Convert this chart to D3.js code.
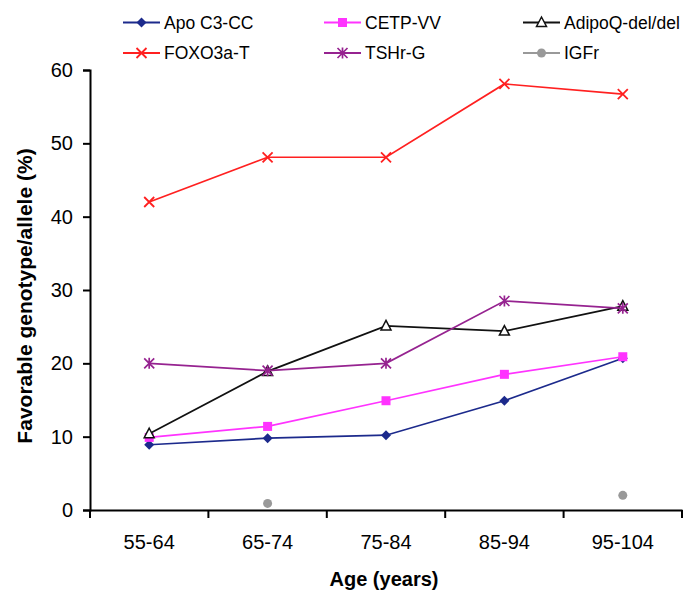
<!DOCTYPE html>
<html>
<head>
<meta charset="utf-8">
<script src="https://cdn.jsdelivr.net/npm/d3@7"></script>
<style>
  body { margin: 0; background: #fff; }
  text { font-family: "Liberation Sans", Arial, sans-serif; }
</style>
</head>
<body>
<svg width="683" height="590"></svg>
<script>
var width = 683;
var height = 590;

// age groups and tick labels
const ages = ["55-64", "65-74", "75-84", "85-94", "95-104"];
const yTicks = [0, 10, 20, 30, 40, 50, 60];

// values (%)
const apoC3 = [8.9, 9.8, 10.2, 14.9, 20.7];
const cetp = [9.9, 11.4, 14.9, 18.5, 20.9];
const adipoQ = [10.4, 18.9, 25.1, 24.4, 27.8];
const foxo3a = [42.0, 48.1, 48.1, 58.1, 56.7];
const tshr = [20.0, 19.0, 20.0, 28.5, 27.5];
const igfr = [null, 0.9, null, null, 2.0];

const seriesNames = ["Apo C3-CC", "CETP-VV", "AdipoQ-del/del", "FOXO3a-T", "TSHr-G", "IGFr"];

var series = [
    {name: seriesNames[0], values: apoC3, color: "#1c2a8c", marker: "diamond"},
    {name: seriesNames[1], values: cetp, color: "#ff33ff", marker: "square"},
    {name: seriesNames[2], values: adipoQ, color: "#111111", marker: "triangle"},
    {name: seriesNames[3], values: foxo3a, color: "#ff2020", marker: "cross"},
    {name: seriesNames[4], values: tshr, color: "#962390", marker: "star"},
    {name: seriesNames[5], values: igfr, color: "#999999", marker: "circle"}
];

var margin = {left: 90, top: 70, right: 1, bottom: 80};
var svg = d3.select("svg");

// scales
let xScale = d3.scaleBand().domain(ages).range([margin.left, width - margin.right]);
let yScale = d3.scaleLinear().domain([0, 60]).range([height - margin.bottom, margin.top]);

// axes
let xAxis = d3.axisBottom(xScale).tickSize(0).tickPadding(25);
let yAxis = d3.axisLeft(yScale).tickValues(yTicks).tickSize(7).tickPadding(10);

var gx = svg.append("g").attr("transform", "translate(0," + yScale(0) + ")").call(xAxis);
gx.select(".domain").attr("stroke", "#000").attr("stroke-width", 2);
gx.selectAll("text").style("font-size", "20px").attr("fill", "#000");

// category separator ticks, Excel style
var edges = ages.map(a => xScale(a)).concat([xScale.range()[1]]);
gx.selectAll("line.sep").data(edges).enter().append("line")
    .attr("class", "sep")
    .attr("x1", d => d).attr("x2", d => d)
    .attr("y1", 0).attr("y2", 8)
    .attr("stroke", "#000").attr("stroke-width", 2);

var gy = svg.append("g").attr("transform", "translate(" + margin.left + ",0)").call(yAxis);
gy.select(".domain").attr("stroke", "#000").attr("stroke-width", 2);
gy.selectAll(".tick line").attr("stroke", "#000").attr("stroke-width", 2);
gy.selectAll("text").style("font-size", "20px").attr("fill", "#000");

// axis titles
svg.append("text")
    .style("font-size", "21px").style("font-weight", "bold")
    .attr("text-anchor", "middle")
    .attr("transform", "translate(32,296) rotate(-90)")
    .text("Favorable genotype/allele (%)");

svg.append("text")
    .style("font-size", "20px").style("font-weight", "bold")
    .attr("text-anchor", "middle")
    .attr("x", 384)
    .attr("y", 586)
    .text("Age (years)");

// marker drawing
function drawMarker(g, type, color) {
    if (type === "diamond") {
        g.append("path").attr("d", "M0,-5L5,0L0,5L-5,0Z").attr("fill", color);
    } else if (type === "square") {
        g.append("rect").attr("x", -4.5).attr("y", -4.5).attr("width", 9).attr("height", 9).attr("fill", color);
    } else if (type === "triangle") {
        g.append("path").attr("d", "M0,-5.5L5,4L-5,4Z").attr("fill", "#fff").attr("stroke", color).attr("stroke-width", 1.5);
    } else if (type === "cross") {
        g.append("path").attr("d", "M-5,-5L5,5M-5,5L5,-5").attr("stroke", color).attr("stroke-width", 1.8);
    } else if (type === "star") {
        g.append("path").attr("d", "M-5,-5L5,5M-5,5L5,-5M0,-5.5L0,5.5").attr("stroke", color).attr("stroke-width", 1.7);
    } else if (type === "circle") {
        g.append("circle").attr("r", 4.5).attr("fill", color);
    }
}

// lines and points
let line = d3.line()
    .defined(d => d.v !== null)
    .x(d => xScale(d.age) + xScale.bandwidth() / 2)
    .y(d => yScale(d.v));

series.forEach(s => {
    let pts = s.values.map((v, i) => ({age: ages[i], v: v}));
    svg.append("path")
        .datum(pts)
        .attr("fill", "none")
        .attr("stroke", s.color)
        .attr("stroke-width", 1.7)
        .attr("d", line);
    pts.filter(p => p.v !== null).forEach(p => {
        let g = svg.append("g")
            .attr("transform", "translate(" + (xScale(p.age) + xScale.bandwidth() / 2) + "," + yScale(p.v) + ")");
        drawMarker(g, s.marker, s.color);
    });
});

// legend
var legendCols = [123, 324, 523];
var legendRows = [22.5, 53];
series.forEach((s, i) => {
    let lx = legendCols[i % 3];
    let ly = legendRows[Math.floor(i / 3)];
    let g = svg.append("g").attr("transform", "translate(" + lx + "," + ly + ")");
    g.append("line").attr("x1", 0).attr("x2", 37).attr("y1", 0).attr("y2", 0)
        .attr("stroke", s.color).attr("stroke-width", 2);
    let m = g.append("g").attr("transform", "translate(18.5,0)");
    drawMarker(m, s.marker, s.color);
    g.append("text").attr("x", 41).attr("y", 6)
        .style("font-size", "17.5px").attr("fill", "#000")
        .text(s.name);
});
</script>
</body>
</html>
